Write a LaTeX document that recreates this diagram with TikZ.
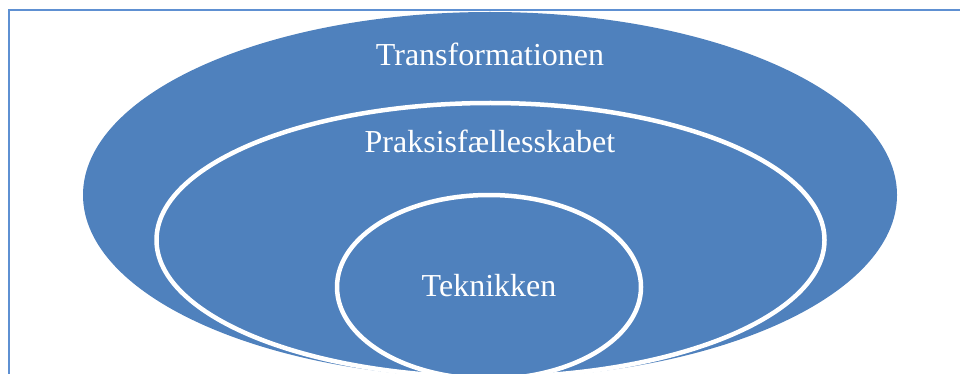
\documentclass[tikz,border=0pt]{standalone}
\usepackage{fontspec}
\setmainfont{Liberation Serif}
\usetikzlibrary{shapes.geometric}
\definecolor{officeblue}{HTML}{4F81BD}
\definecolor{framecol}{HTML}{5E90D2}
\tikzset{
  ring/.style={ellipse, fill=officeblue, inner sep=0pt},
  whiteedge/.style={draw=white, line width=4.5pt},
  label/.style={text=white, anchor=base, font=\fontsize{32}{38}\selectfont, inner sep=0pt}
}
\begin{document}
\begin{tikzpicture}[x=1pt,y=-1pt]
\useasboundingbox (0,0) rectangle (960,374);
\clip (0,0) rectangle (960,374);
\fill[white] (0,0) rectangle (960,374);
\draw[framecol, line width=2pt] (8.5,400) -- (8.5,10.5) -- (1000,10.5);
\node[ring, minimum width=814pt, minimum height=366pt] (outer) at (490,195) {};
\node[ring, whiteedge, minimum width=668pt, minimum height=274pt] (middle) at (490.5,240) {};
\node[ring, whiteedge, minimum width=304pt, minimum height=184pt] (inner) at (489,287) {};
\node[label] (t1) at (490,66) {Transformationen};
\node[label] (t2) at (490,153) {Praksisfællesskabet};
\node[label] (t3) at (489,296) {Teknikken};
\end{tikzpicture}
\end{document}
